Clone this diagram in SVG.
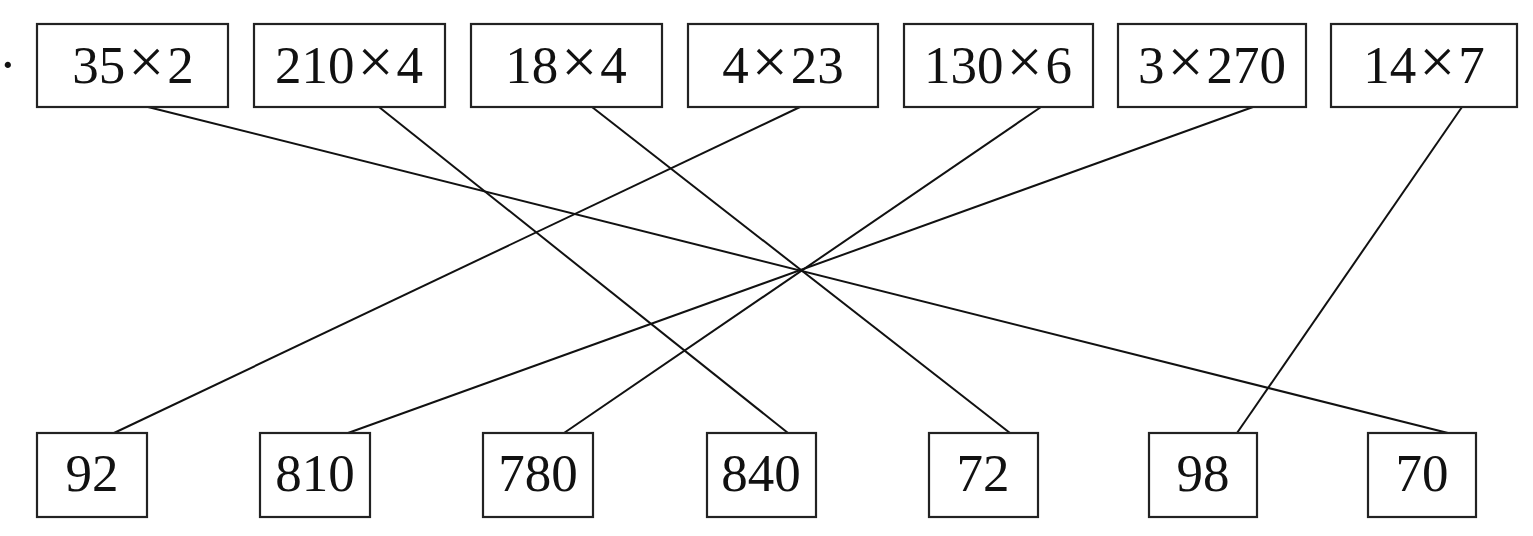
<svg xmlns="http://www.w3.org/2000/svg" width="1533" height="536" viewBox="0 0 1533 536">
<style>
.box{fill:#fff;stroke:#222;stroke-width:2.2}
.t{font-family:"Liberation Serif","Times New Roman",serif;font-size:53px;fill:#111;text-anchor:middle}
.x{font-size:64px;font-weight:normal}
.c{stroke:#111;stroke-width:2;fill:none}
</style>
<rect width="1533" height="536" fill="#fff"/>
<text class="t" x="-1" y="82" style="text-anchor:start">·</text>
<g id="connectors">
<line class="c" x1="148" y1="107" x2="1448" y2="433"/>
<line class="c" x1="379" y1="107" x2="788" y2="433"/>
<line class="c" x1="592" y1="107" x2="1010" y2="433"/>
<line class="c" x1="800" y1="107" x2="114" y2="433"/>
<line class="c" x1="1041" y1="107" x2="564" y2="433"/>
<line class="c" x1="1253" y1="107" x2="348" y2="433"/>
<line class="c" x1="1462" y1="107" x2="1237" y2="433"/>
</g>
<g id="top1"><rect class="box" x="37" y="24" width="191" height="83"/><text class="t" x="133" y="83">35<tspan class="x" dx="3">×</tspan><tspan dx="3">2</tspan></text></g>
<g id="top2"><rect class="box" x="254" y="24" width="191" height="83"/><text class="t" x="349" y="83">210<tspan class="x" dx="3">×</tspan><tspan dx="3">4</tspan></text></g>
<g id="top3"><rect class="box" x="471" y="24" width="191" height="83"/><text class="t" x="566" y="83">18<tspan class="x" dx="3">×</tspan><tspan dx="3">4</tspan></text></g>
<g id="top4"><rect class="box" x="688" y="24" width="190" height="83"/><text class="t" x="783" y="83">4<tspan class="x" dx="3">×</tspan><tspan dx="3">23</tspan></text></g>
<g id="top5"><rect class="box" x="904" y="24" width="189" height="83"/><text class="t" x="998" y="83">130<tspan class="x" dx="3">×</tspan><tspan dx="3">6</tspan></text></g>
<g id="top6"><rect class="box" x="1118" y="24" width="188" height="83"/><text class="t" x="1212" y="83">3<tspan class="x" dx="3">×</tspan><tspan dx="3">270</tspan></text></g>
<g id="top7"><rect class="box" x="1331" y="24" width="186" height="83"/><text class="t" x="1424" y="83">14<tspan class="x" dx="3">×</tspan><tspan dx="3">7</tspan></text></g>
<g id="bot1"><rect class="box" x="37" y="433" width="110" height="84"/><text class="t" x="92" y="491">92</text></g>
<g id="bot2"><rect class="box" x="260" y="433" width="110" height="84"/><text class="t" x="315" y="491">810</text></g>
<g id="bot3"><rect class="box" x="483" y="433" width="110" height="84"/><text class="t" x="538" y="491">780</text></g>
<g id="bot4"><rect class="box" x="707" y="433" width="109" height="84"/><text class="t" x="761" y="491">840</text></g>
<g id="bot5"><rect class="box" x="929" y="433" width="109" height="84"/><text class="t" x="983" y="491">72</text></g>
<g id="bot6"><rect class="box" x="1149" y="433" width="108" height="84"/><text class="t" x="1203" y="491">98</text></g>
<g id="bot7"><rect class="box" x="1368" y="433" width="108" height="84"/><text class="t" x="1422" y="491">70</text></g>
</svg>
